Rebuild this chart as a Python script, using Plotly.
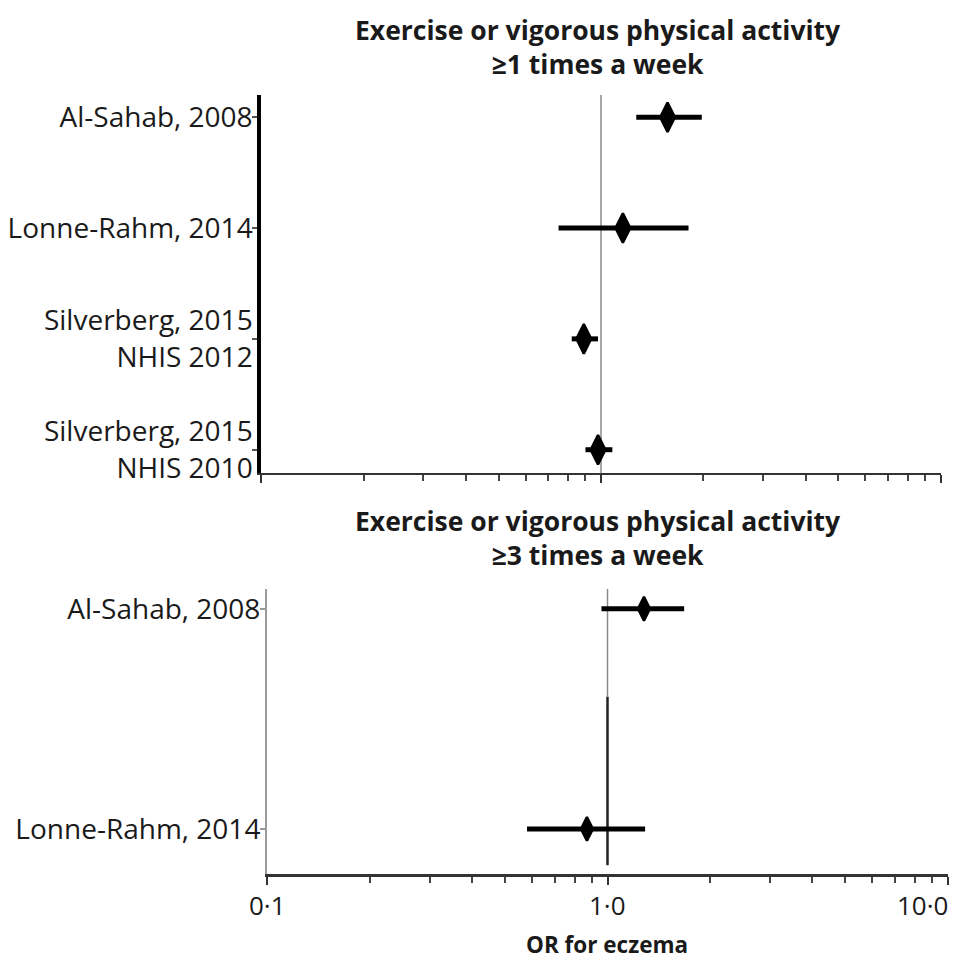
import math
import plotly.graph_objects as go

W, H = 967, 963

# ---- data ----
top_labels = ["Al-Sahab, 2008", "Lonne-Rahm, 2014", "Silverberg, 2015<br>NHIS 2012", "Silverberg, 2015<br>NHIS 2010"]
top_pos = [3, 2, 1, 0]
top_or = [1.57, 1.16, 0.89, 0.98]
top_lo = [1.27, 0.75, 0.82, 0.90]
top_hi = [1.98, 1.81, 0.98, 1.08]

bot_labels = ["Al-Sahab, 2008", "Lonne-Rahm, 2014"]
bot_pos = [1, 0]
bot_or = [1.28, 0.87]
bot_lo = [0.96, 0.58]
bot_hi = [1.68, 1.29]

major_ticks = [0.1, 1, 10]
major_text = ["0·1", "1·0", "10·0"]
minor_ticks = [0.2, 0.3, 0.4, 0.5, 0.6, 0.7, 0.8, 0.9, 2, 3, 4, 5, 6, 7, 8, 9]

FONT = "Open Sans"
TXT = "#1a1a1a"


def px_x(a, b):
    return [a / W, b / W]


def px_y(top, bottom):
    return [1 - bottom / H, 1 - top / H]


fig = go.Figure()

# reference lines at OR = 1
fig.add_trace(go.Scatter(x=[1, 1], y=[-0.21, 3.2], mode="lines",
                         line=dict(color="#8a8a8a", width=1.5),
                         xaxis="x", yaxis="y", showlegend=False, hoverinfo="skip"))
fig.add_trace(go.Scatter(x=[1, 1], y=[0.6, 1.09], mode="lines",
                         line=dict(color="#8a8a8a", width=1.5),
                         xaxis="x2", yaxis="y2", showlegend=False, hoverinfo="skip"))
fig.add_trace(go.Scatter(x=[1, 1], y=[-0.165, 0.6], mode="lines",
                         line=dict(color="#222222", width=2.5),
                         xaxis="x2", yaxis="y2", showlegend=False, hoverinfo="skip"))


def forest(or_, lo, hi, pos, xa, ya, size):
    return go.Scatter(
        x=or_, y=pos, mode="markers",
        marker=dict(symbol="diamond-tall", size=size, color="black",
                    line=dict(color="black", width=2.5)),
        error_x=dict(type="data", symmetric=False,
                     array=[h - o for h, o in zip(hi, or_)],
                     arrayminus=[o - l for o, l in zip(or_, lo)],
                     color="black", thickness=5, width=0),
        xaxis=xa, yaxis=ya, showlegend=False, cliponaxis=False)


fig.add_trace(forest(top_or, top_lo, top_hi, top_pos, "x", "y", 21))
fig.add_trace(forest(bot_or, bot_lo, bot_hi, bot_pos, "x2", "y2", 17))

common_x = dict(type="log", range=[-1.001, 1.001], tickmode="array", tickvals=major_ticks,
                ticks="outside", ticklen=8, tickwidth=2, tickcolor="#333",
                showgrid=False, zeroline=False, showline=True, fixedrange=True,
                automargin=False, showticklabels=False,
                minor=dict(tickmode="array", tickvals=minor_ticks, ticks="outside",
                           ticklen=6, tickwidth=1.5, tickcolor="#444", showgrid=False))

# x tick labels of the lower panel, placed on its log axis
tick_annots = []
for i, (v, t) in enumerate(zip(major_ticks, major_text)):
    last = i == len(major_ticks) - 1
    tick_annots.append(dict(
        text=t, x=math.log10(v), xref="x2", y=1 - 905 / H, yref="paper",
        xanchor="right" if last else "center", yanchor="middle",
        xshift=2 if last else 0, showarrow=False,
        font=dict(size=26, family=FONT, color=TXT)))

fig.update_layout(
    width=W, height=H,
    margin=dict(l=0, r=0, t=0, b=0, pad=0),
    paper_bgcolor="white", plot_bgcolor="white",
    font=dict(family=FONT, color=TXT, size=26),
    xaxis=dict(common_x, domain=px_x(261, 941), anchor="y",
               linecolor="#333", linewidth=2),
    yaxis=dict(domain=px_y(95, 473), anchor="x", range=[-0.21, 3.2],
               tickmode="array", tickvals=top_pos, ticktext=top_labels,
               ticks="outside", ticklen=5, tickwidth=1.5, tickcolor="#555",
               ticklabelstandoff=-6,
               showgrid=False, zeroline=False, showline=True, automargin=False,
               linecolor="black", linewidth=3.5,
               tickfont=dict(size=28, family=FONT, color=TXT)),
    xaxis2=dict(common_x, domain=px_x(267, 948), anchor="y2",
                linecolor="#333", linewidth=3),
    yaxis2=dict(domain=px_y(589, 874), anchor="x2", range=[-0.205, 1.09],
                tickmode="array", tickvals=bot_pos, ticktext=bot_labels,
                ticks="outside", ticklen=5, tickwidth=1.5, tickcolor="#999",
                ticklabelstandoff=-6,
                showgrid=False, zeroline=False, showline=True, automargin=False,
                linecolor="#9a9a9a", linewidth=2,
                tickfont=dict(size=28, family=FONT, color=TXT)),
    annotations=[
        dict(text="<b>Exercise or vigorous physical activity</b><br><b>≥1 times a week</b>",
             x=598 / W, y=1 - 47 / H, xref="paper", yref="paper",
             xanchor="center", yanchor="middle", showarrow=False,
             font=dict(size=26.5, family=FONT, color=TXT)),
        dict(text="<b>Exercise or vigorous physical activity</b><br><b>≥3 times a week</b>",
             x=598 / W, y=1 - 538 / H, xref="paper", yref="paper",
             xanchor="center", yanchor="middle", showarrow=False,
             font=dict(size=26.5, family=FONT, color=TXT)),
        dict(text="<b>OR for eczema</b>",
             x=607 / W, y=1 - 944 / H, xref="paper", yref="paper",
             xanchor="center", yanchor="middle", showarrow=False,
             font=dict(size=22.5, family=FONT, color=TXT)),
    ] + tick_annots,
)

fig.write_html("out.html", config={"displayModeBar": False},
               post_script="document.body.style.margin='0';")
